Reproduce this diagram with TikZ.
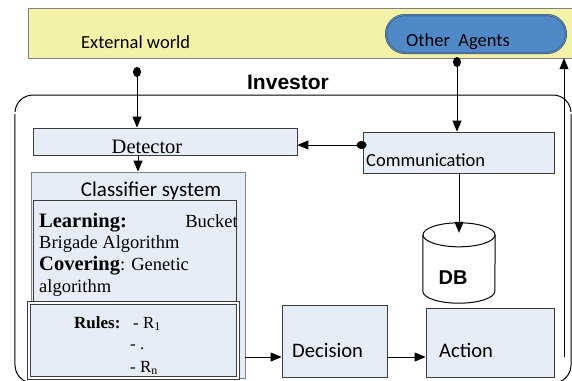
\documentclass[tikz,border=0pt]{standalone}
\usepackage{fontspec}
\setmainfont{Liberation Serif}
\setsansfont{Carlito}
\newfontfamily\arialfont{Liberation Sans}
\usetikzlibrary{arrows.meta,shapes.misc}
\definecolor{bandyellow}{RGB}{244,242,166}
\definecolor{agentblue}{RGB}{80,137,200}
\definecolor{boxblue}{RGB}{231,237,247}
\definecolor{boxline}{RGB}{60,60,60}

\begin{document}
\begin{tikzpicture}[x=1bp, y=-1bp, inner sep=0pt,
  box/.style={draw=boxline, fill=boxblue, line width=0.8bp},
  lbl/.style={font=\sffamily\fontsize{#1}{#1}\selectfont},
  lbl/.default=18.5bp,
  txt/.style={anchor=base west, font=\fontsize{#1}{#1}\selectfont},
  txt/.default=18.5bp,
  head/.style={font=\arialfont\bfseries\fontsize{#1}{#1}\selectfont},
  arr/.style={-{Triangle[width=9bp,length=11bp]}, line width=1bp},
  dotarr/.style={{Circle[width=8bp,length=10bp]}-{Triangle[width=9bp,length=11bp]},
                 line width=1bp}
]
  \useasboundingbox (0,0) rectangle (572,380);
  % outside world
  \node[draw=gray, fill=bandyellow, minimum width=552bp, minimum height=50bp]
        (world) at (304,33) {};
  \node[rounded rectangle, draw=black!75, double=agentblue, double distance=1.2bp,
        fill=agentblue, minimum width=180bp, minimum height=38bp]
        (agents) at (476,34) {};
  \node[lbl, anchor=west] (worldlbl) at (81,42) {External world};
  \node[lbl, anchor=west] (agentslbl) at (406,42) {Other\ \ Agents};

  % investor agent
  \node[head=21bp] (invlbl) at (288,82) {Investor};
  \node[draw, line width=1bp, rounded corners=18bp, minimum width=556bp,
        minimum height=288bp] (inv) at (293,239) {};
  \coordinate (rim) at (0,113);
  \draw[double, double distance=1.2bp, line width=0.6bp]
        (inv.west |- rim) -- (inv.east |- rim);

  \node[box, minimum width=264bp, minimum height=27bp] (det) at (165,141.5) {};
  \node[font=\fontsize{20.5bp}{22bp}\selectfont] (detlbl) at (147,147) {Detector};
  \node[box, minimum width=191bp, minimum height=41bp] (comm) at (458.5,152.5) {};
  \node[lbl, anchor=west] (commlbl) at (366,160) {Communication};

  % classifier system
  \node[box, draw=gray, minimum width=214bp, minimum height=206bp] (cls) at (138,275) {};
  \node[lbl=21bp] (clslbl) at (151,191) {Classifier system};
  \node[box, minimum width=203bp, minimum height=102bp] (learn) at (134.5,251) {};
  \node[txt=20.5bp] (learnlbl) at (39,227) {\textbf{Learning:}};
  \node[txt, anchor=base east] (bucket) at (238,227) {Bucket};
  \node[txt] (brigade) at (39,248) {Brigade Algorithm};
  \node[txt] (cover) at (39,270)
        {{\fontsize{20.5bp}{20.5bp}\selectfont\textbf{Covering}}: Genetic};
  \node[txt] (algo) at (39,292) {algorithm};
  \node[box, double, double distance=1.5bp, minimum width=209bp, minimum height=75bp]
        (rules) at (133.5,340.5) {};
  \node[txt=17bp] (ruleslbl) at (74,328) {\textbf{Rules:}};
  \node[txt=17bp] (r1) at (133,328) {- R\textsubscript{1}};
  \node[txt=17bp] (rdots) at (130,349) {- .};
  \node[txt=17bp] (rn) at (130,372) {- R\textsubscript{n}};

  % data base
  \node[minimum width=72bp, minimum height=80bp] (db) at (459,263) {};
  \draw[line width=1bp] ([yshift=-12bp]db.north) ellipse [x radius=36bp, y radius=12bp];
  \draw[line width=1bp] ([yshift=-12bp]db.north west) -- ([yshift=12bp]db.south west)
        arc[start angle=180, end angle=360, x radius=36bp, y radius=12bp]
        -- ([yshift=-12bp]db.north east);
  \node[head=20bp] (dblbl) at (453,278) {DB};

  \node[box, minimum width=105bp, minimum height=72bp] (dec) at (334.5,341) {};
  \node[lbl=20.6bp, anchor=west] (declbl) at (292,350) {Decision};
  \node[box, minimum width=128bp, minimum height=69bp] (act) at (490,342.5) {};
  \node[lbl=20.6bp, anchor=west] (actlbl) at (439,350) {Action};

  % connectors
  \coordinate (ew) at (137,67);
  \coordinate (oa) at (457,57);
  \coordinate (cd) at ([xshift=4bp, yshift=7.5bp]comm.west);
  \coordinate (flow) at (0,357);
  \coordinate (out) at (564,357);
  \draw[dotarr] (ew) -- (ew |- det.north);
  \draw[dotarr] (oa) -- (oa |- comm.north);
  \draw[dotarr] (cd) -- (cd -| det.east);
  \draw[arr] (cls.north |- det.south) -- (cls.north);
  \draw[arr] (db.north |- comm.south) -- ([yshift=-10bp]db.north);
  \draw[arr] (cls.east |- flow) -- (dec.west |- flow);
  \draw[arr] (dec.east |- flow) -- (act.west |- flow);
  \draw[arr] (out) -- (out |- world.south);
\end{tikzpicture}
\end{document}
